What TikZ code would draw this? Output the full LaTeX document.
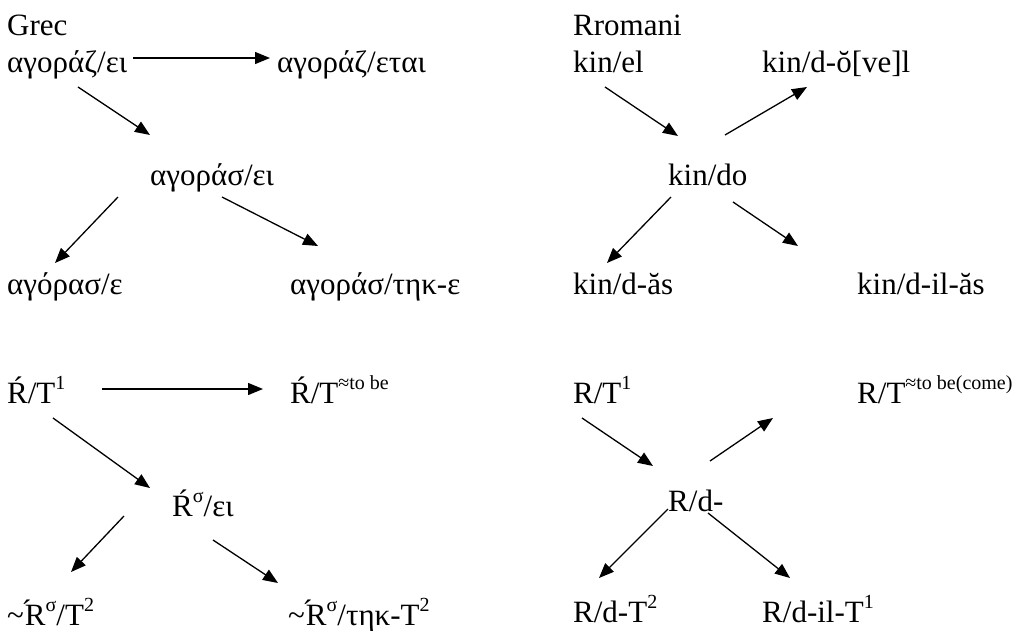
\documentclass[tikz,border=0pt]{standalone}
\usepackage{fontspec}
\setmainfont{Liberation Serif}
\usetikzlibrary{arrows.meta}
\newcommand\sups[1]{\raisebox{0.42em}{\fontsize{20}{20}\selectfont #1}}
\newcommand\tacR{\textasciitilde\kern-0.08em\raisebox{0.1em}{´}\kern-0.22em R}
\tikzset{
  lbl/.style={anchor=base west, inner sep=0pt, font=\fontsize{31}{37}\selectfont},
  arr/.style={line width=1.3pt, -{Triangle[length=15pt,width=12pt]}}
}
\begin{document}
\begin{tikzpicture}[x=1pt,y=-1pt]
\useasboundingbox (0,0) rectangle (1021,630);
% ---- Greek, top-left
\node[lbl] (grec) at (7,35) {Grec};
\node[lbl] (g1) at (7,72) {αγοράζ/ει};
\node[lbl] (g2) at (277,72) {αγοράζ/εται};
\node[lbl] (g3) at (150,185) {αγοράσ/ει};
\node[lbl] (g4) at (7,294) {αγόρασ/ε};
\node[lbl] (g5) at (290,294) {αγοράσ/τηκ-ε};
\coordinate (g1h) at (133,58);  \coordinate (g2h) at (270,58);
\coordinate (g1d) at (78,87);   \coordinate (g3u) at (150,135);
\coordinate (g3l) at (118,197); \coordinate (g4u) at (55,263);
\coordinate (g3r) at (222,197); \coordinate (g5u) at (318,246);
\draw[arr] (g1h) -- (g2h);
\draw[arr] (g1d) -- (g3u);
\draw[arr] (g3l) -- (g4u);
\draw[arr] (g3r) -- (g5u);
% ---- Rromani, top-right
\node[lbl] (rrom) at (573,35) {Rromani};
\node[lbl] (r1) at (573,72) {kin/el};
\node[lbl] (r2) at (762,72) {kin/d-ŏ[ve]l};
\node[lbl] (r3) at (668,185) {kin/do};
\node[lbl] (r4) at (573,294) {kin/d-ăs};
\node[lbl] (r5) at (857,294) {kin/d-il-ăs};
\coordinate (r1d) at (605,87);  \coordinate (r3u) at (678,136);
\coordinate (r3o) at (725,135); \coordinate (r2d) at (807,87);
\coordinate (r3l) at (671,197); \coordinate (r4u) at (607,263);
\coordinate (r3r) at (733,202); \coordinate (r5u) at (798,246);
\draw[arr] (r1d) -- (r3u);
\draw[arr] (r3o) -- (r2d);
\draw[arr] (r3l) -- (r4u);
\draw[arr] (r3r) -- (r5u);
% ---- Greek schema, bottom-left
\node[lbl] (s1) at (7,403) {Ŕ/T\sups{1}};
\node[lbl] (s2) at (290,403) {Ŕ/T\sups{≈to be}};
\node[lbl] (s3) at (172,516) {Ŕ\sups{σ}/ει};
\node[lbl] (s4) at (7,625) {\tacR\sups{σ}/T\sups{2}};
\node[lbl] (s5) at (288,625) {\tacR\sups{σ}/τηκ-T\sups{2}};
\coordinate (s1h) at (102,389); \coordinate (s2h) at (263,389);
\coordinate (s1d) at (53,418);  \coordinate (s3u) at (150,488);
\coordinate (s3l) at (124,516); \coordinate (s4u) at (71,572);
\coordinate (s3r) at (213,540); \coordinate (s5u) at (278,583);
\draw[arr] (s1h) -- (s2h);
\draw[arr] (s1d) -- (s3u);
\draw[arr] (s3l) -- (s4u);
\draw[arr] (s3r) -- (s5u);
% ---- Rromani schema, bottom-right
\node[lbl] (t1) at (573,403) {R/T\sups{1}};
\node[lbl] (t2) at (857,403) {R/T\sups{≈to be(come)}};
\node[lbl] (t3) at (668,511) {R/d-};
\node[lbl] (t4) at (573,622) {R/d-T\sups{2}};
\node[lbl] (t5) at (762,622) {R/d-il-T\sups{1}};
\coordinate (t1d) at (582,418); \coordinate (t3u) at (653,466);
\coordinate (t3o) at (710,461); \coordinate (t2d) at (773,418);
\coordinate (t3l) at (668,509); \coordinate (t4u) at (599,578);
\coordinate (t3r) at (708,513); \coordinate (t5u) at (790,578);
\draw[arr] (t1d) -- (t3u);
\draw[arr] (t3o) -- (t2d);
\draw[arr] (t3l) -- (t4u);
\draw[arr] (t3r) -- (t5u);
\end{tikzpicture}
\end{document}
